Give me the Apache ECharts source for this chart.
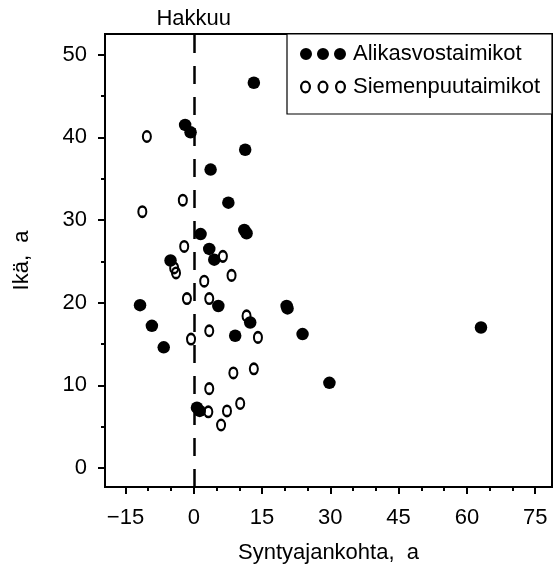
<!DOCTYPE html>
<html><head><meta charset="utf-8">
<script src="https://cdn.jsdelivr.net/npm/echarts@6/dist/echarts.min.js"></script>
<style>html,body{margin:0;padding:0;background:#fff}#c{width:560px;height:570px}</style>
</head><body><div id="c"></div>
<script>
const alikasX = [13.2,-1.9,-0.7,11.3,3.7,7.6,1.5,11.1,11.6,3.4,4.5,-5.1,5.4,-11.8,20.4,20.6,-9.2,12.4,9.1,-6.6,0.7,1.3,23.9,29.8,63.1];
const alikasY = [46.6,41.5,40.6,38.5,36.1,32.1,28.3,28.8,28.4,26.5,25.2,25.1,19.6,19.7,19.6,19.3,17.2,17.6,16.0,14.6,7.3,6.9,16.2,10.3,17.0];
const siemenX = [-10.3,-2.4,-11.3,-2.1,6.4,-4.3,-3.9,8.3,2.3,-1.5,3.4,11.6,3.4,14.1,-0.6,8.7,13.2,3.4,3.2,7.3,10.2,6.0];
const siemenY = [40.1,32.4,31.0,26.8,25.6,24.2,23.6,23.3,22.6,20.5,20.5,18.4,16.6,15.8,15.6,11.5,12.0,9.6,6.8,6.9,7.8,5.2];
const xTicks = [-15,0,15,30,45,60,75];
const xMinorTicks = [-10,-5,5,10,20,25,35,40,50,55,65,70];
const yTicks = [0,10,20,30,40,50];
const yMinorTicks = [5,15,25,35,45];
const seriesNames = ['Alikasvostaimikot','Siemenpuutaimikot'];
const cutLabel = 'Hakkuu';
const cutX = 0;

const FONT = '"Liberation Sans", Arial, Helvetica, sans-serif';
const xMin = -19.5, xMax = 78.7, yMin = -2.3, yMax = 52.5;
const zip = (a, b) => a.map((v, i) => [v, b[i]]);

const filledIcon = 'path://M0,6.5a6,6 0 1,1 12,0a6,6 0 1,1 -12,0Z M17,6.5a6,6 0 1,1 12,0a6,6 0 1,1 -12,0Z M34,6.5a6,6 0 1,1 12,0a6,6 0 1,1 -12,0Z M0,0.5L0,0.5';
function ring(o){ return 'M'+o+',6.5a5.5,6.5 0 1,1 11,0a5.5,6.5 0 1,1 -11,0Z M'+(o+2.2)+',6.5a3.3,4.3 0 1,0 6.6,0a3.3,4.3 0 1,0 -6.6,0Z'; }
const ringIcon = 'path://' + ring(0) + ' ' + ring(17.5) + ' ' + ring(35);

const black = '#000';
const txt = {color: black, fontSize: 22, fontFamily: FONT};

function xAxisBase(){ return {type:'value', min:xMin, max:xMax, gridIndex:0, position:'bottom', splitLine:{show:false}}; }
function yAxisBase(){ return {type:'value', min:yMin, max:yMax, gridIndex:0, position:'left', splitLine:{show:false}}; }

const option = {
  animation: false,
  backgroundColor: '#fff',
  grid: {left:105, top:34, right:8, bottom:83, show:true, borderColor:black, borderWidth:2, backgroundColor:'transparent'},
  graphic: [{type:'rect', z:1, shape:{x:287, y:34, width:265, height:80}, style:{fill:'#fff', stroke:black, lineWidth:1.2}}],
  legend: {
    z: 5, left: 295, top: 38, orient: 'vertical', itemWidth: 46, itemHeight: 13, itemGap: 11,
    selectedMode: false,
    textStyle: {color: black, fontSize: 22, fontFamily: FONT, padding:[0,0,0,2]},
    data: [
      {name: seriesNames[0], icon: filledIcon, itemStyle: {color: black, borderWidth: 0}},
      {name: seriesNames[1], icon: ringIcon, itemStyle: {color: black, borderWidth: 0}}
    ]
  },
  xAxis: [
    Object.assign(xAxisBase(), {
      axisLine: {show:true, onZero:false, lineStyle:{color:black, width:2}},
      axisTick: {show:true, customValues:xTicks, length:7, lineStyle:{color:black, width:2}},
      axisLabel: Object.assign({customValues:xTicks, margin:20, formatter: v => String(v).replace('-', '\u2212')}, txt),
      name: 'Syntyajankohta,  a', nameLocation:'middle', nameGap:55, nameTextStyle: Object.assign({}, txt)
    }),
    Object.assign(xAxisBase(), {
      axisLine: {show:false, onZero:false},
      axisTick: {show:true, customValues:xMinorTicks, length:4, lineStyle:{color:black, width:2}},
      axisLabel: {show:false}
    })
  ],
  yAxis: [
    Object.assign(yAxisBase(), {
      axisLine: {show:true, onZero:false, lineStyle:{color:black, width:2}},
      axisTick: {show:true, customValues:yTicks, length:7, lineStyle:{color:black, width:2}},
      axisLabel: Object.assign({customValues:yTicks, margin:18}, txt),
      name: 'Ikä,  a', nameLocation:'middle', nameGap:72, nameTextStyle: Object.assign({}, txt)
    }),
    Object.assign(yAxisBase(), {
      axisLine: {show:false, onZero:false},
      axisTick: {show:true, customValues:yMinorTicks, length:4, lineStyle:{color:black, width:2}},
      axisLabel: {show:false}
    })
  ],
  series: [
    {
      name: seriesNames[0], type:'scatter', xAxisIndex:0, yAxisIndex:0,
      symbol:'circle', symbolSize:12.5, silent:true,
      itemStyle:{color:black, opacity:1},
      data: zip(alikasX, alikasY)
    },
    {
      name: seriesNames[1], type:'scatter', xAxisIndex:0, yAxisIndex:0,
      symbol:'circle', symbolSize:[8,10.4], silent:true,
      itemStyle:{color:'rgba(0,0,0,0)', borderColor:black, borderWidth:2.3, opacity:1},
      data: zip(siemenX, siemenY),
      markLine: {
        silent:true, symbol:['none','none'], animation:false,
        lineStyle:{color:black, width:2.5, type:[18,13]},
        label:{show:true, position:'end', formatter:cutLabel, color:black, fontSize:22, fontFamily:FONT, distance:4},
        emphasis:{disabled:true},
        data:[{xAxis:cutX}]
      }
    }
  ]
};
const chart = echarts.init(document.getElementById('c'), null, {renderer:'canvas'});
chart.setOption(option);
</script></body></html>
